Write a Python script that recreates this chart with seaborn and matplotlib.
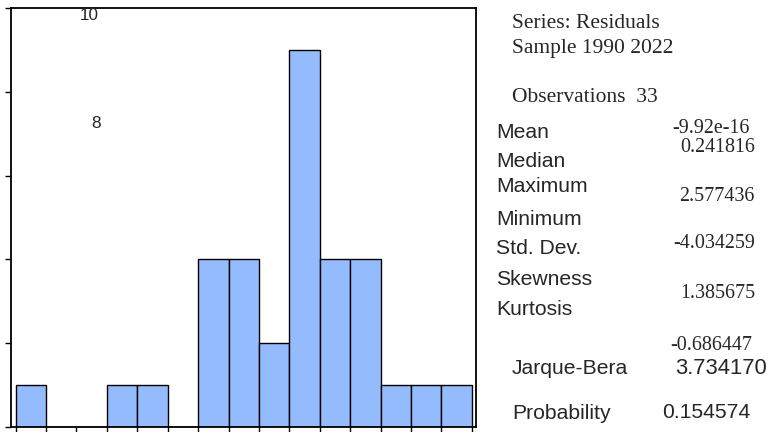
import numpy as np
import seaborn as sns
import matplotlib.pyplot as plt

# histogram of residuals, bins of width 0.5 from -4.5 to 3.0
bin_edges = [-4.5, -4.0, -3.5, -3.0, -2.5, -2.0, -1.5, -1.0, -0.5,
             0.0, 0.5, 1.0, 1.5, 2.0, 2.5, 3.0]
counts = [1, 0, 0, 1, 1, 0, 4, 4, 2, 9, 4, 4, 1, 1, 1]
bin_centers = [(a + b) / 2 for a, b in zip(bin_edges[:-1], bin_edges[1:])]
y_ticks = [0, 2, 4, 6, 8, 10]

stat_labels = ["Mean", "Median", "Maximum", "Minimum", "Std. Dev.", "Skewness", "Kurtosis"]
stat_label_base = [138, 166.5, 192, 225.5, 253.5, 285, 315]
stat_values = ["-9.92e-16", "0.241816", "2.577436", "-4.034259", "1.385675", "-0.686447"]
stat_value_base = [133, 151.5, 201.5, 248.5, 298.5, 350]
stat_value_right = [750, 755, 755, 755, 755, 752]

sns.set_style("white")
plt.rcParams['font.family'] = ['Liberation Sans', 'DejaVu Sans']

fig = plt.figure(figsize=(7.71, 4.32), dpi=100)
ax = fig.add_axes([11 / 771, 5 / 432, 465 / 771, 419 / 432])

sns.histplot(x=bin_centers, weights=counts, bins=bin_edges, ax=ax,
             color="#95bbff", edgecolor="black", linewidth=1.0, alpha=1.0)

ax.set_xlim(-4.577, 3.07)
ax.set_ylim(0, 10)
ax.set_xticks(bin_edges)
ax.set_xticklabels([])
ax.set_yticks(y_ticks)
ax.set_yticklabels([])
ax.set_xlabel("")
ax.set_ylabel("")
ax.tick_params(axis="both", direction="out", length=4.5, width=1.0, color="black",
               bottom=True, left=True)
for s in ax.spines.values():
    s.set_color("black")
    s.set_linewidth(1.3)

def fig_px(x, y):
    return x / 771, 1 - y / 432

# stray tick labels that sit inside the plot in the original
fig.text(*fig_px(89.5, 20), "10", fontsize=12.3, ha="center", va="baseline")
fig.text(*fig_px(96, 128), "8", fontsize=12.3, ha="center", va="baseline")

serif = ["Liberation Serif", "DejaVu Serif"]
fs = 15.2
fig.text(*fig_px(512, 28.5), "Series: Residuals", fontsize=15.5, family=serif, va="baseline")
fig.text(*fig_px(512, 53), "Sample 1990 2022", fontsize=15.5, family=serif, va="baseline")
fig.text(*fig_px(512, 101.5), "Observations  33", fontsize=15.5, family=serif, va="baseline")

for lab, y in zip(stat_labels, stat_label_base):
    fig.text(*fig_px(496, y), lab, fontsize=fs, va="baseline")
for val, y, r in zip(stat_values, stat_value_base, stat_value_right):
    fig.text(*fig_px(r, y), val, fontsize=14.4, family=serif, va="baseline", ha="right")

fig.text(*fig_px(512, 373.5), "Jarque-Bera", fontsize=fs, va="baseline")
fig.text(*fig_px(767, 374), "3.734170", fontsize=15.8, va="baseline", ha="right")
fig.text(*fig_px(512, 419), "Probability", fontsize=fs, va="baseline")
fig.text(*fig_px(750, 418), "0.154574", fontsize=15.2, va="baseline", ha="right")

fig.savefig("out.png", dpi=100)
